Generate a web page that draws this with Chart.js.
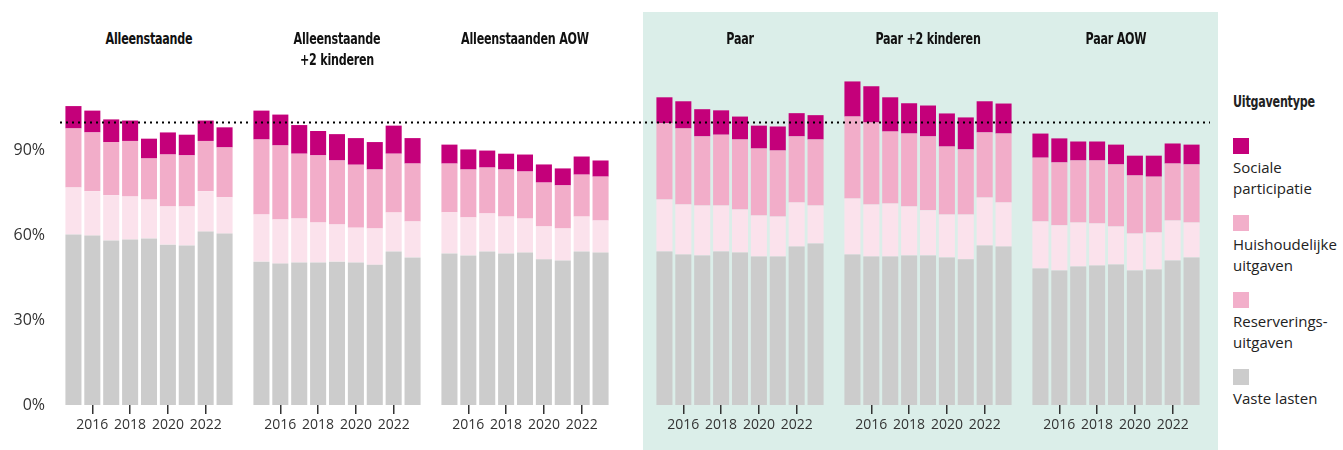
<!DOCTYPE html>
<html>
<head>
<meta charset="utf-8">
<script src="https://cdn.jsdelivr.net/npm/chart.js@4"></script>
<style>
  body { margin: 0; background: #fff; }
  #wrap { position: relative; width: 1343px; height: 450px; overflow: hidden; font-family: "Open Sans", sans-serif; }
  #teal { position: absolute; left: 643px; top: 12px; width: 575px; height: 438px; background: #dbeee9; }
  canvas { position: absolute; top: 0; }
  .title { position: absolute; top: 29px; width: 240px; text-align: center; font-family: "Liberation Sans Narrow", "DejaVu Sans Condensed", sans-serif; font-weight: bold; font-size: 15.5px; letter-spacing: -0.3px; line-height: 21px; color: #111; transform: scaleX(0.8); }
  #legend { position: absolute; left: 1233px; top: 92px; font-size: 15px; color: #222; line-height: 21px; }
  #legend .head { font-family: "Liberation Sans Narrow", "DejaVu Sans Condensed", sans-serif; font-weight: bold; font-size: 15.5px; letter-spacing: -0.3px; margin-bottom: 25px; transform: scaleX(0.8); transform-origin: left center; white-space: nowrap; }
  #legend .sw { width: 16px; height: 16px; margin-bottom: 3px; }
  #legend .item { margin-bottom: 16px; }
</style>
</head>
<body>
<div id="wrap">
  <div id="teal"></div>
  <div id="legend"></div>
</div>
<script>
const years = ["2015", "2016", "2017", "2018", "2019", "2020", "2021", "2022", "2023"];
const panels = ["Alleenstaande", "Alleenstaande<br>+2 kinderen", "Alleenstaanden AOW", "Paar", "Paar +2 kinderen", "Paar AOW"];

// one row per panel, values in % (segment sizes)
const vasteLasten = [
  [60.2, 59.8, 58.1, 58.4, 58.8, 56.6, 56.3, 61.2, 60.5],
  [50.6, 49.9, 50.3, 50.3, 50.6, 50.3, 49.5, 54.2, 52.1],
  [53.5, 52.8, 54.2, 53.5, 53.8, 51.4, 51.0, 54.2, 53.8],
  [54.2, 53.1, 52.8, 54.2, 53.8, 52.4, 52.4, 55.9, 57.0],
  [53.1, 52.4, 52.4, 52.8, 52.8, 52.1, 51.4, 56.3, 55.9],
  [48.2, 47.5, 48.9, 49.2, 49.6, 47.5, 47.8, 51.0, 52.1]
];
const reservering = [
  [16.6, 15.6, 15.9, 15.2, 13.7, 13.5, 13.8, 14.2, 12.8],
  [16.6, 15.6, 15.5, 14.1, 13.1, 12.3, 12.8, 13.7, 12.7],
  [14.5, 13.4, 13.4, 13.0, 12.0, 11.6, 11.3, 12.3, 11.3],
  [18.3, 17.7, 17.6, 16.2, 15.2, 14.5, 14.1, 15.6, 13.4],
  [19.8, 18.4, 18.7, 17.3, 15.9, 15.1, 15.8, 16.9, 15.6],
  [16.6, 15.9, 15.5, 14.9, 13.4, 13.0, 13.1, 14.1, 12.3]
];
const huishoudelijk = [
  [20.8, 20.8, 18.8, 19.6, 14.5, 18.3, 18.0, 17.8, 17.6],
  [26.5, 26.1, 22.9, 23.7, 22.6, 22.2, 20.8, 20.8, 20.4],
  [17.2, 16.9, 16.2, 16.6, 16.6, 15.5, 15.2, 14.8, 15.5],
  [26.9, 26.8, 24.4, 25.0, 24.7, 23.6, 23.3, 23.3, 23.3],
  [28.9, 28.9, 25.4, 25.7, 26.1, 24.0, 23.0, 23.0, 24.3],
  [22.5, 22.2, 21.9, 22.2, 21.9, 20.5, 19.7, 20.1, 20.5]
];
const sociaal = [
  [7.9, 7.7, 8.0, 7.2, 7.0, 7.8, 7.3, 7.2, 7.1],
  [10.2, 10.9, 10.1, 8.6, 9.3, 9.4, 9.7, 9.9, 9.0],
  [6.7, 7.1, 6.0, 5.6, 6.0, 6.4, 6.0, 6.4, 5.7],
  [9.2, 9.6, 9.6, 8.6, 8.1, 8.1, 8.5, 8.2, 8.6],
  [12.4, 12.8, 12.1, 10.7, 10.9, 11.7, 11.3, 11.0, 10.6],
  [8.5, 8.5, 6.7, 6.7, 7.0, 7.0, 7.4, 7.1, 7.0]
];
const yTicks = [0, 30, 60, 90];
const shownYears = ["2016", "2018", "2020", "2022"];
const referenceLine = 100;

const series = [
  { label: "Vaste lasten", data: vasteLasten, color: "#cccccc", legend: "#cccccc" },
  { label: "Reserverings-<br>uitgaven", data: reservering, color: "#fbe2ec", legend: "#f2afca" },
  { label: "Huishoudelijke<br>uitgaven", data: huishoudelijk, color: "#f2adc9", legend: "#f2afca" },
  { label: "Sociale<br>participatie", data: sociaal, color: "#c4007a", legend: "#c4007a" }
];

// chart area left edge per panel, width of the bars area
const areaLeft = [64, 252, 440, 655, 843, 1031];
const areaW = 170;
const lineEnd = 1210;

const wrap = document.getElementById("wrap");

const dottedLine = {
  id: "dottedLine",
  afterDatasetsDraw(chart, args, opts) {
    const ctx = chart.ctx;
    const y = Math.round(chart.scales.y.getPixelForValue(referenceLine)) + 0.5;
    ctx.save();
    ctx.strokeStyle = "#000";
    ctx.lineWidth = 2;
    ctx.setLineDash([2, 4]);
    ctx.lineDashOffset = opts.offset || 0;
    ctx.beginPath();
    ctx.moveTo(opts.x0, y);
    ctx.lineTo(chart.width, y);
    ctx.stroke();
    ctx.restore();
  }
};

panels.forEach((name, p) => {
  const first = p === 0;
  const left = first ? 0 : areaLeft[p];
  const right = p < panels.length - 1 ? areaLeft[p + 1] : lineEnd;
  const yW = first ? areaLeft[0] : 0;

  const t = document.createElement("div");
  t.className = "title";
  t.style.left = (areaLeft[p] + areaW / 2 - 120) + "px";
  t.innerHTML = name;
  wrap.appendChild(t);

  const canvas = document.createElement("canvas");
  canvas.width = right - left;
  canvas.height = 450;
  canvas.style.left = left + "px";
  wrap.appendChild(canvas);

  new Chart(canvas, {
    type: "bar",
    data: {
      labels: years,
      datasets: series.map(s => ({
        label: s.label,
        data: s.data[p],
        backgroundColor: s.color,
        borderWidth: 0,
        barPercentage: 0.85,
        categoryPercentage: 1
      }))
    },
    options: {
      responsive: false,
      animation: false,
      events: [],
      layout: { padding: { left: 0, right: right - left - yW - areaW, top: 65, bottom: 0 } },
      plugins: {
        legend: { display: false },
        tooltip: { enabled: false },
        dottedLine: { x0: first ? 57 : 0, offset: (left - 57) % 6 }
      },
      scales: {
        x: {
          stacked: true,
          border: { display: false },
          grid: {
            drawOnChartArea: false,
            offset: false,
            tickLength: 9,
            lineWidth: 1.5,
            color: c => (c.index % 2 === 1 ? "#333" : "rgba(0,0,0,0)")
          },
          ticks: {
            autoSkip: false,
            maxRotation: 0,
            padding: 3,
            color: "#333",
            font: { family: "Open Sans", size: 14 },
            callback: (v, i) => (shownYears.includes(years[i]) ? years[i] : "")
          },
          afterFit: s => { s.height = 45; }
        },
        y: {
          display: first,
          stacked: true,
          min: 0,
          max: 120,
          border: { display: false },
          grid: { display: false, drawTicks: false },
          afterBuildTicks: s => { s.ticks = yTicks.map(v => ({ value: v })); },
          ticks: {
            padding: 19,
            color: "#333",
            font: { family: "Open Sans", size: 16 },
            callback: v => v + "%"
          },
          afterFit: s => { s.width = yW; }
        }
      }
    },
    plugins: [dottedLine]
  });
});

// legend
const legend = document.getElementById("legend");
let html = '<div class="head">Uitgaventype</div>';
series.slice().reverse().forEach(s => {
  html += '<div class="item"><div class="sw" style="background:' + s.legend + '"></div>' + s.label + '</div>';
});
legend.innerHTML = html;
</script>
</body>
</html>
